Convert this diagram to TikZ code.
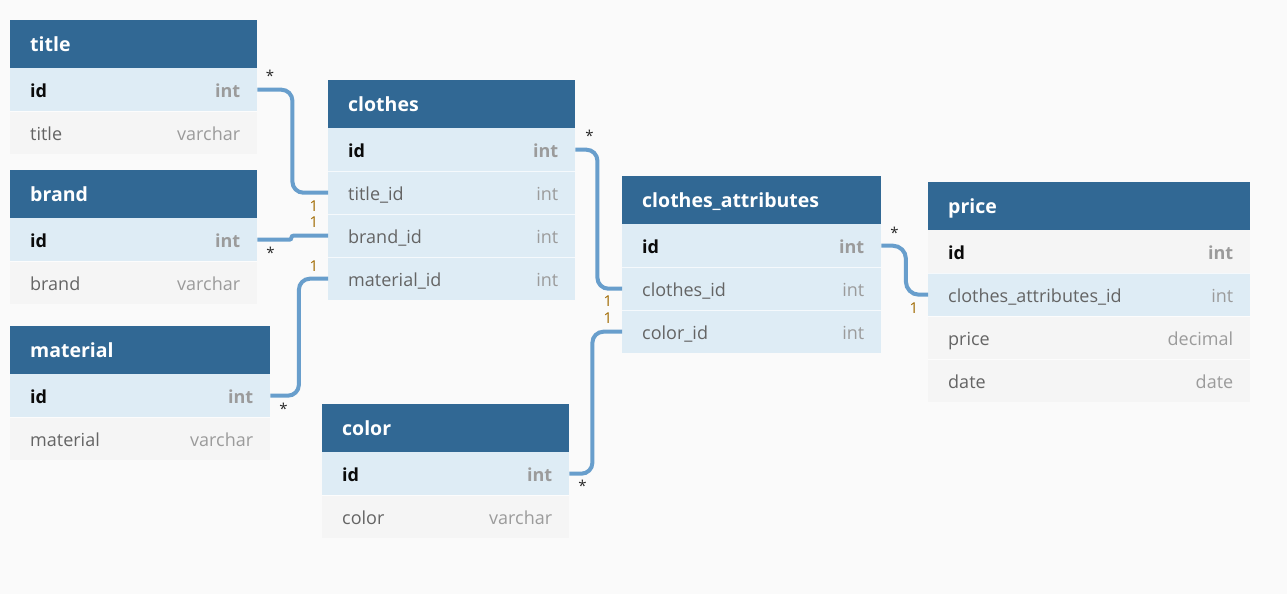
\documentclass[tikz,border=0pt]{standalone}
\usepackage{fontspec}
\setmainfont{Open Sans}
\definecolor{bgc}{RGB}{250,250,250}
\definecolor{hdrc}{RGB}{49,104,148}
\definecolor{rowblue}{RGB}{222,236,245}
\definecolor{rowgray}{RGB}{245,245,245}
\definecolor{pkname}{RGB}{10,10,10}
\definecolor{fname}{RGB}{100,100,100}
\definecolor{typec}{RGB}{155,155,155}
\definecolor{connc}{RGB}{104,158,204}
\definecolor{onec}{RGB}{160,105,0}
\definecolor{starc}{RGB}{40,40,40}
\tikzset{
  hdr/.style={anchor=north west, fill=hdrc, text=white, minimum height=48, inner xsep=20, inner ysep=0,
    text height=17, text depth=3, font=\fontsize{19.5}{23}\selectfont\bfseries},
  rowcell/.style={anchor=north west, minimum height=43, inner xsep=0, inner ysep=0,
    text height=18, text depth=3, font=\fontsize{18}{22}\selectfont},
  sepline/.style={draw=white, opacity=0.7, line width=1},
  conn/.style={draw=connc, line width=4, rounded corners=11},
  cardone/.style={text=onec, inner sep=0, font=\fontsize{15}{18}\selectfont},
  cardmany/.style={text=starc, inner sep=0, anchor=north, font=\fontsize{15}{18}\selectfont}
}
\newcommand\erdtable[6]{%
  \pgfmathsetmacro\tw{#4-40}%
  \node[hdr, text width=\tw pt, minimum width=#4] (#1) at (#2,#3) {#5};
  \foreach \nm/\ty/\pk/\fc [count=\i] in {#6} {
    \pgfmathsetmacro\yy{#3+48+43*(\i-1)}
    \node[rowcell, fill=\fc, text width=#4 pt, minimum width=#4] (#1-\i) at (#2,\yy)
      {\hspace*{20pt}\ifnum\pk=1 \bfseries\color{pkname}\nm\hfill\color{typec}\ty\else\color{fname}\nm\hfill\color{typec}\ty\fi\hspace*{17pt}};
    \ifnum\i>1 \draw[sepline] (#1-\i.north west) -- (#1-\i.north east);\fi
  }
}
\begin{document}
\begin{tikzpicture}[x=1pt,y=-1pt]
\useasboundingbox[fill=bgc] (0,0) rectangle (1287,594);

\erdtable{title}{10}{20}{247}{title}{id/int/1/rowblue, title/varchar/0/rowgray}
\erdtable{brand}{10}{170}{247}{brand}{id/int/1/rowblue, brand/varchar/0/rowgray}
\erdtable{material}{10}{326}{260}{material}{id/int/1/rowblue, material/varchar/0/rowgray}
\erdtable{clothes}{328}{80}{247}{clothes}{id/int/1/rowblue, title\_id/int/0/rowblue, brand\_id/int/0/rowblue, material\_id/int/0/rowblue}
\erdtable{color}{322}{404}{247}{color}{id/int/1/rowblue, color/varchar/0/rowgray}
\erdtable{ca}{622}{176}{259}{clothes\_attributes}{id/int/1/rowblue, clothes\_id/int/0/rowblue, color\_id/int/0/rowblue}
\erdtable{price}{928}{182}{322}{price}{id/int/1/rowgray, clothes\_attributes\_id/int/0/rowblue, price/decimal/0/rowgray, date/date/0/rowgray}

% connectors
\draw[conn] (title-1.east) -- ++(35,0) |- (clothes-2.west);
\draw[conn, rounded corners=2] (brand-1.east) -- ++(34,0) |- (clothes-3.west);
\draw[conn] (material-1.east) -- ++(28.5,0) |- (clothes-4.west);
\draw[conn] (clothes-1.east) -- ++(22,0) |- (ca-2.west);
\draw[conn] (color-1.east) -- ++(23,0) |- (ca-3.west);
\draw[conn, rounded corners=13] (ca-1.east) -- ++(24.5,0) |- (price-2.west);

% cardinality labels
\node[cardmany] (s1) at (270,70) {*};
\node[cardone] (o1) at (314,206) {1};
\node[cardone] (o2) at (314,222.5) {1};
\node[cardmany] (s2) at (270.5,246.5) {*};
\node[cardone] (o3) at (314,266) {1};
\node[cardmany] (s3) at (283.5,402.5) {*};
\node[cardmany] (s4) at (589.5,130) {*};
\node[cardone] (o4) at (608,301.5) {1};
\node[cardone] (o5) at (608,318) {1};
\node[cardmany] (s5) at (582.5,480) {*};
\node[cardmany] (s6) at (894.5,226.5) {*};
\node[cardone] (o6) at (914,308) {1};
\end{tikzpicture}
\end{document}
